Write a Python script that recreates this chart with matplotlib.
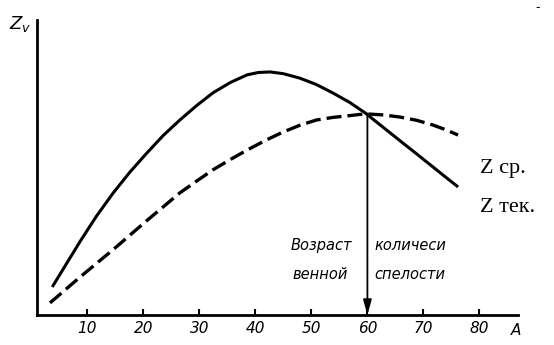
import matplotlib
matplotlib.use("Agg")
import matplotlib.pyplot as plt

# values (age A on x, Z_v in arbitrary units 0..100)
age_cur = [3.7, 8.7, 11.6, 14.6, 17.6, 20.6, 23.5, 26.5, 29.5, 32.4, 35.5, 38.5, 40.5,
           42.6, 45.0, 47.9, 50.8, 53.8, 56.8, 59.6, 62.7, 65.8, 68.8, 71.7, 74.0, 76.2]
z_cur = [9.5, 25.0, 33.5, 41.4, 48.5, 54.9, 60.8, 66.1, 71.0, 75.3, 78.8, 81.4, 82.2,
         82.4, 81.8, 80.3, 78.2, 75.3, 72.1, 68.5, 63.8, 59.1, 54.6, 50.2, 46.7, 43.4]

age_avg = [3.3, 8.7, 14.6, 20.6, 26.5, 29.5, 32.4, 35.5, 38.5, 41.7, 44.9, 47.9, 50.9,
           53.9, 56.9, 58.7, 60.4, 63.0, 65.8, 68.8, 71.7, 74.0, 76.2]
z_avg = [4.1, 12.9, 22.2, 32.0, 41.4, 45.4, 49.2, 52.7, 55.9, 59.1, 62.0, 64.3, 66.1,
         67.0, 67.6, 68.0, 68.1, 67.8, 67.1, 66.0, 64.4, 62.8, 61.0]

ticks = [10, 20, 30, 40, 50, 60, 70, 80]
tick_labels = ["10", "20", "30", "40", "50", "60", "70", "80"]
ripe_age = 60
ripe_z = 68.3

W, H = 554, 345
fig = plt.figure(figsize=(W / 100, H / 100), dpi=100)
ax = fig.add_axes([37 / W, (H - 315) / H, (518 - 37) / W, (315 - 20) / H])

ax.plot(age_cur, z_cur, color="black", lw=2.2, solid_capstyle="butt",
        solid_joinstyle="round")
ax.plot(age_avg, z_avg, color="black", lw=2.4, linestyle=(0, (4.5, 1.8)),
        dash_joinstyle="round")

# arrow down from the crossing point to the age axis
ax.annotate("", xy=(ripe_age, 0), xytext=(ripe_age, ripe_z),
            arrowprops=dict(arrowstyle="-|>,head_length=0.9,head_width=0.25",
                            color="black", lw=1.3, shrinkA=0, shrinkB=0))

ax.set_xlim(0.98, 86.9)
ax.set_ylim(0, 100)
ax.spines["top"].set_visible(False)
ax.spines["right"].set_visible(False)
ax.spines["left"].set_linewidth(2.0)
ax.spines["bottom"].set_linewidth(2.0)
ax.set_yticks([])
ax.set_xticks(ticks)
ax.set_xticklabels(tick_labels, fontstyle="italic", fontsize=11)
ax.tick_params(axis="x", direction="in", length=4, width=1.5, pad=4)

# axis letter at the end of the x axis
ax.text(86.5, -2.6, "A", fontstyle="italic", fontsize=11, ha="center", va="top",
        clip_on=False)

txt = dict(fontstyle="italic", fontsize=10.5, va="center")
ax.text(57.2, 23.7, "Возраст", ha="right", **txt)
ax.text(56.5, 13.6, "венной", ha="right", **txt)
ax.text(61.2, 23.7, "количеси", ha="left", **txt)
ax.text(61.2, 13.6, "спелости", ha="left", **txt)

ax.text(80.1, 49.8, "Z ср.", family="Liberation Serif", fontsize=16,
        ha="left", va="center", clip_on=False)
ax.text(80.1, 36.6, "Z тек.", family="Liberation Serif", fontsize=16,
        ha="left", va="center", clip_on=False)

fig.text(9 / W, 1 - 14 / H, "$Z_v$", fontsize=13, ha="left", va="top")
fig.text(535 / W, 1 - 1 / H, "-", fontsize=9, ha="left", va="top")

fig.savefig("out.png", dpi=100)
